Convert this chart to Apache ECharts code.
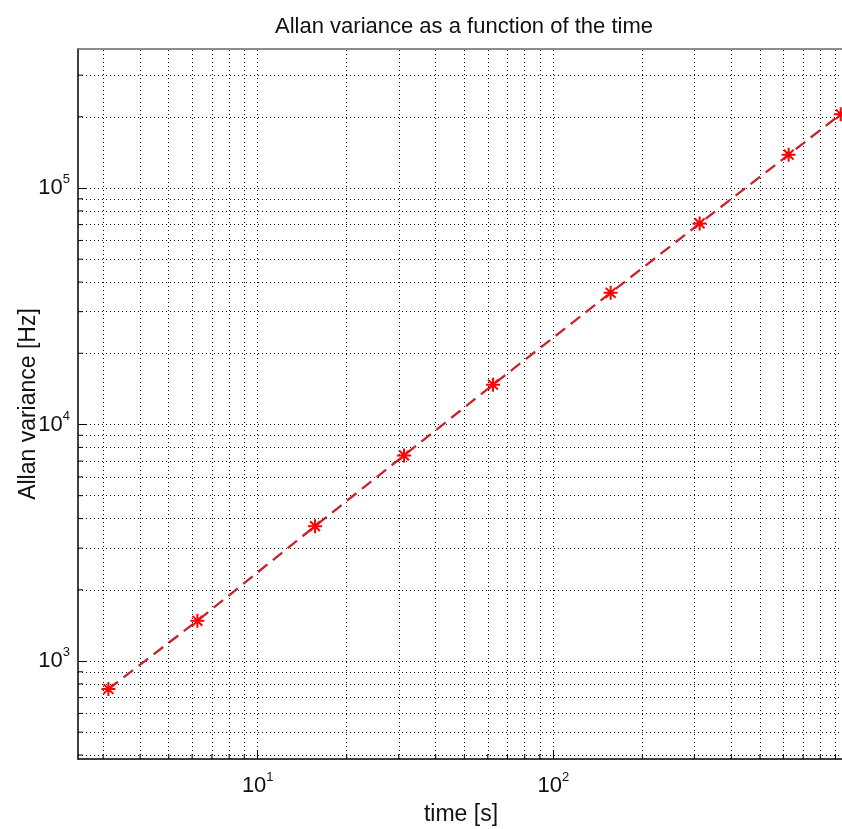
<!DOCTYPE html>
<html><head><meta charset="utf-8">
<script src="https://cdn.jsdelivr.net/npm/echarts@6/dist/echarts.min.js"></script>
<style>html,body{margin:0;padding:0;background:#fff}#c{width:842px;height:829px}</style>
</head><body><div id="c"></div>
<script>
// ---- data ----
const timeValues = [3.125, 6.25, 15.625, 31.25, 62.5, 156.25, 312.5, 625, 937.5];
const allanValues = [761, 1479, 3715, 7398, 14730, 36040, 70800, 138300, 205000];
const xGridValues = [3,4,5,6,7,8,9,10,20,30,40,50,60,70,80,90,100,200,300,400,500,600,700,800,900];
const yGridValues = [400,500,600,700,800,900,1000,2000,3000,4000,5000,6000,7000,8000,9000,
  10000,20000,30000,40000,50000,60000,70000,80000,90000,100000,200000,300000];
const xRange = [2.466, 962];
const yRange = [385, 387000];
const titleText = 'Allan variance as a function of the time';
const xTitle = 'time [s]';
const yTitle = 'Allan variance [Hz]';

const isPow10 = v => { const e = Math.log10(v); return Math.abs(e - Math.round(e)) < 1e-6; };
const fmt = v => isPow10(v) ? '10{sup|' + Math.round(Math.log10(v)) + '}' : '';
const FONT = 'Liberation Sans, Arial, sans-serif';
const labelRich = {
  fontFamily: FONT, fontSize: 22, color: '#111',
  rich: { sup: { fontFamily: FONT, fontSize: 13, color: '#111', padding: [0, 0, 17, 0] } }
};

const minorTicks = [];
xGridValues.filter(v => !isPow10(v)).forEach(v => minorTicks.push([v, yRange[0], 0]));
yGridValues.filter(v => !isPow10(v)).forEach(v => minorTicks.push([xRange[0], v, 1]));

const gridLineStyle = { color: '#000', width: 1, type: [1, 3] };
const markData = xGridValues.map(v => ({ xAxis: v })).concat(yGridValues.map(v => ({ yAxis: v })));

const chart = echarts.init(document.getElementById('c'), null, { renderer: 'canvas' });
chart.setOption({
  animation: false,
  backgroundColor: '#fff',
  title: {
    text: titleText, left: 459, top: 11, textAlign: 'center',
    textStyle: { fontFamily: FONT, fontSize: 22, fontWeight: 'normal', color: '#111' }
  },
  grid: { left: 78, top: 49, bottom: 70, right: -2, containLabel: false, outerBoundsMode: 'none' },
  xAxis: [{
    type: 'log', logBase: 10, min: xRange[0], max: xRange[1],
    name: xTitle, nameLocation: 'middle', nameGap: 44, nameMoveOverlap: false,
    nameTextStyle: { fontFamily: FONT, fontSize: 23, color: '#111' },
    axisLine: { show: true, lineStyle: { color: '#000', width: 1.5 } },
    axisTick: { show: true, inside: true, length: 8, lineStyle: { color: '#000' } },
    axisLabel: Object.assign({ formatter: fmt, margin: 12, showMinLabel: false, showMaxLabel: false }, labelRich),
    splitLine: { show: false }
  }, {
    type: 'log', logBase: 10, min: xRange[0], max: xRange[1], position: 'top',
    axisLine: { show: true, lineStyle: { color: '#666', width: 1.5 } },
    axisTick: { show: false }, axisLabel: { show: false }, splitLine: { show: false }
  }],
  yAxis: {
    type: 'log', logBase: 10, min: yRange[0], max: yRange[1],
    name: yTitle, nameLocation: 'middle', nameGap: 38, nameRotate: 90, nameMoveOverlap: false,
    nameTextStyle: { fontFamily: FONT, fontSize: 23, color: '#111' },
    axisLine: { show: true, lineStyle: { color: '#000', width: 1.5 } },
    axisTick: { show: true, inside: true, length: 8, lineStyle: { color: '#000' } },
    axisLabel: Object.assign({ formatter: fmt, margin: 8, showMinLabel: false, showMaxLabel: false }, labelRich),
    splitLine: { show: false }
  },
  series: [{
    type: 'line', xAxisIndex: 0, yAxisIndex: 0,
    data: timeValues.map((t, i) => [t, allanValues[i]]),
    symbol: 'path://M0,-10L0,10M-10,0L10,0M-7,-7L7,7M-7,7L7,-7',
    symbolSize: 14,
    itemStyle: { color: '#ff0000', borderColor: '#ff0000', borderWidth: 2 },
    lineStyle: { color: '#c8222a', width: 2.3, type: [12, 7] },
    z: 5,
    markLine: {
      silent: true, symbol: 'none', label: { show: false },
      lineStyle: gridLineStyle, data: markData, animation: false
    }
  }, {
    type: 'custom', xAxisIndex: 0, yAxisIndex: 0, clip: false, silent: true,
    data: minorTicks,
    renderItem: (params, api) => {
      const p = api.coord([api.value(0), api.value(1)]);
      const kind = api.value(2);
      const q = kind === 0 ? [p[0], p[1] - 5] : [p[0] + 5, p[1]];
      return { type: 'line', shape: { x1: p[0], y1: p[1], x2: q[0], y2: q[1] },
        style: { stroke: '#000', lineWidth: 1 } };
    }
  }]
});
</script></body></html>
